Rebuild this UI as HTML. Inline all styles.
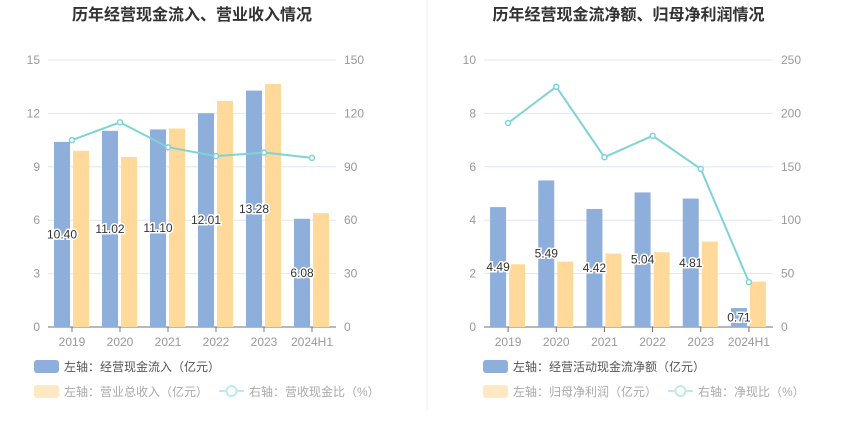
<!DOCTYPE html>
<html><head><meta charset="utf-8"><style>
body{margin:0;background:#fff;width:850px;height:437px;overflow:hidden;font-family:"Liberation Sans","Noto Sans CJK SC",sans-serif}
svg text{font-family:"Liberation Sans","Noto Sans CJK SC",sans-serif}
</style></head><body>
<svg id="c" width="850" height="437"></svg>
<script>
const categories=["2019","2020","2021","2022","2023","2024H1"];
const leftBlue=[10.40,11.02,11.10,12.01,13.28,6.08];
const leftOrange=[9.9,9.55,11.15,12.7,13.65,6.4];
const leftLine=[105,115,101,96,98,95];
const leftTicksL=[0,3,6,9,12,15];
const leftTicksR=[0,30,60,90,120,150];
const rightBlue=[4.49,5.49,4.42,5.04,4.81,0.71];
const rightOrange=[2.35,2.45,2.75,2.8,3.2,1.7];
const rightLine=[191,225,159,179,148,42];
const rightTicksL=[0,2,4,6,8,10];
const rightTicksR=[0,50,100,150,200,250];
const NS="http://www.w3.org/2000/svg";
const svg=document.getElementById('c');
function el(t,a,txt){const e=document.createElementNS(NS,t);for(const k in a)e.setAttribute(k,a[k]);if(txt!=null)e.textContent=txt;svg.appendChild(e);return e;}
function chart(o){
 const x0=o.x0,x1=o.x1,y0=60,y1=327,n=categories.length,cw=(x1-x0)/n;
 const maxL=o.tl[o.tl.length-1],maxR=o.tr[o.tr.length-1];
 const yL=v=>y1-v/maxL*(y1-y0),yR=v=>y1-v/maxR*(y1-y0),xc=i=>x0+cw*(i+0.5);
 let t=el('text',{x:(x0+x1)/2,y:20,'text-anchor':'middle','font-size':16,'font-weight':'bold',fill:'#333'},o.title);
 
 o.tl.forEach((v,i)=>{const y=yL(v);
  if(i>0){const g=el('line',{x1:x0,x2:x1,y1:y,y2:y,stroke:'#e0e6f1'});}
  const a=el('text',{x:x0-8,y:y+4,'text-anchor':'end','font-size':12,fill:'#999'},v);
  const b=el('text',{x:x1+8,y:yR(o.tr[i])+4,'font-size':12,fill:'#999'},o.tr[i]);});
 const ax=el('line',{x1:x0,x2:x1,y1:y1,y2:y1,stroke:'#6e7079'});
 categories.forEach((c,i)=>{
  const tk=el('line',{x1:xc(i),x2:xc(i),y1:y1,y2:y1+5,stroke:'#6e7079'});
  const l=el('text',{x:xc(i),y:y1+19,'text-anchor':'middle','font-size':12,fill:'#999'},c);
  const b=el('rect',{x:xc(i)-18,y:yL(o.b[i]),width:16,height:y1-yL(o.b[i]),fill:'#8eaedb'});
  const r=el('rect',{x:xc(i)+1,y:yL(o.o[i]),width:16,height:y1-yL(o.o[i]),fill:'#ffd99a'});
 });
 categories.forEach((c,i)=>{
  const v=el('text',{x:xc(i)-10,y:yL(o.b[i]/2)+4,'text-anchor':'middle','font-size':12,fill:'#333',stroke:'#fff','stroke-width':3,'paint-order':'stroke'},o.b[i].toFixed(2));
  });
 const pts=o.l.map((v,i)=>xc(i)+','+yR(v)).join(' ');
 const pl=el('polyline',{points:pts,fill:'none',stroke:'#7fd3d8','stroke-width':2});
 o.l.forEach((v,i)=>{const p=el('circle',{cx:xc(i),cy:yR(v),r:2.5,fill:'#fff',stroke:'#7fd3d8','stroke-width':1.5});});
 const lx=o.lx;
 let r1=el('rect',{x:lx,y:360,width:25,height:13,rx:3,fill:'#8eaedb'});
 let t1=el('text',{x:lx+30,y:371,'font-size':12,fill:'#555'},o.lg[0]);
 let r2=el('rect',{x:lx,y:385,width:25,height:13,rx:3,fill:'#ffe8c2'});
 let t2=el('text',{x:lx+30,y:396,'font-size':12,fill:'#aaa'},o.lg[1]);
 let ll=el('line',{x1:o.lx2,x2:o.lx2+25,y1:391,y2:391,stroke:'#bfe9ec','stroke-width':2});
 let lc=el('circle',{cx:o.lx2+12.5,cy:391,r:5,fill:'#fff',stroke:'#bfe9ec','stroke-width':2});
 let t3=el('text',{x:o.lx2+30,y:396,'font-size':12,fill:'#aaa'},o.lg[2]);
}
chart({id:'left',x0:48,x1:336,title:'历年经营现金流入、营业收入情况',tl:leftTicksL,tr:leftTicksR,b:leftBlue,o:leftOrange,l:leftLine,lx:34,lx2:219,lg:['左轴：经营现金流入（亿元）','左轴：营业总收入（亿元）','右轴：营收现金比（%）']});
chart({id:'right',x0:484,x1:773,title:'历年经营现金流净额、归母净利润情况',tl:rightTicksL,tr:rightTicksR,b:rightBlue,o:rightOrange,l:rightLine,lx:483,lx2:668,lg:['左轴：经营活动现金流净额（亿元）','左轴：归母净利润（亿元）','右轴：净现比（%）']});
const d=el('line',{x1:427,x2:427,y1:0,y2:410,stroke:'#eee'});
</script>
</body></html>
